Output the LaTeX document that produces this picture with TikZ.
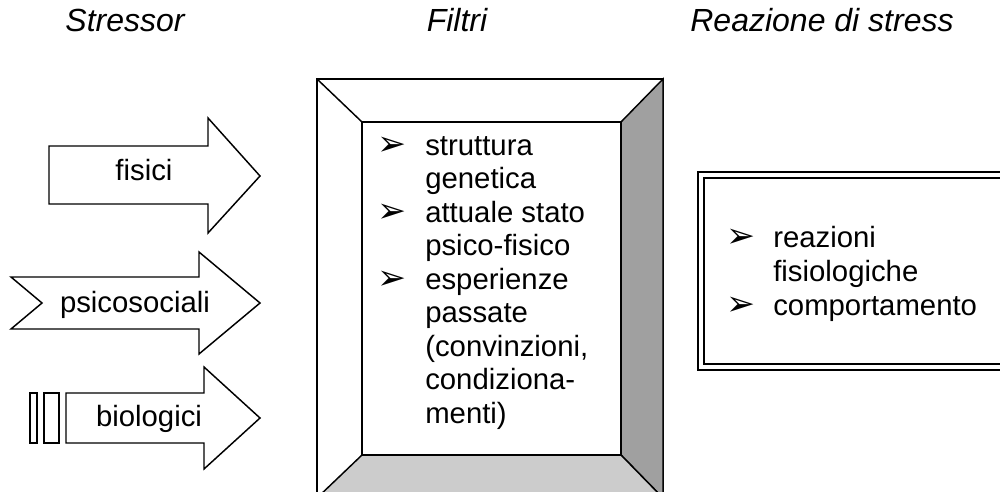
\documentclass[tikz,border=0pt]{standalone}
\usepackage{fontspec}
\setmainfont{Liberation Sans}
\newfontfamily\symfont{DejaVu Sans}
\definecolor{sidegray}{RGB}{160,160,160}
\definecolor{floorgray}{RGB}{204,204,204}
\tikzset{
  shape line/.style={draw=black, line width=1.1pt, line join=miter},
  title text/.style={font=\fontsize{24}{28}\selectfont\itshape, anchor=base, inner sep=0pt},
  body text/.style={font=\fontsize{22}{25}\selectfont, anchor=base west, inner sep=0pt},
  label text/.style={font=\fontsize{22}{25}\selectfont, anchor=base, inner sep=0pt},
  bullet mark/.style={font=\symfont\fontsize{26}{28}\selectfont, anchor=base west, inner sep=0pt},
}
\begin{document}
\begin{tikzpicture}[x=0.75pt, y=-0.75pt]
\useasboundingbox (0,0) rectangle (1000,492);
\clip (0,0) rectangle (1000,492);

\def\xol{317};
\def\xil{362};
\def\xir{621};
\def\xor{663};
\def\yot{79};
\def\yit{122};
\def\yib{455};
\def\yob{498};

\def\xb{377};
\def\xt{425};

% titles
\node[title text] (tstress) at (125,32) {Stressor};
\node[title text] (tfiltri) at (457,32) {Filtri};
\node[title text] (treaz) at (822,32) {Reazione di stress};

% stressor arrows
\filldraw[shape line, fill=white] (49,146) -- (208,146) -- (208,118) -- (260,176) -- (208,233) -- (208,204) -- (49,204) -- cycle;
\node[label text] (fis) at (144,180) {fisici};

\filldraw[shape line, fill=white] (11,277) -- (199,277) -- (199,252) -- (260,303) -- (199,354) -- (199,329) -- (11,329) -- (42,303) -- cycle;
\node[label text] (psi) at (135,312) {psicosociali};

\filldraw[shape line, fill=white] (66,393) -- (204,393) -- (204,367) -- (260,418) -- (204,469) -- (204,443) -- (66,443) -- cycle;
\draw[shape line] (30,393) rectangle (37,443);
\draw[shape line] (44,393) rectangle (59,443);
\node[label text] (bio) at (149,426) {biologici};

% filter frame
\filldraw[shape line, fill=white] (\xol,\yot) rectangle (\xor,\yob);
\filldraw[shape line, fill=sidegray] (\xor,\yot) -- (\xir,\yit) -- (\xir,\yib) -- (\xor,\yob) -- cycle;
\filldraw[shape line, fill=floorgray] (\xol,\yob) -- (\xil,\yib) -- (\xir,\yib) -- (\xor,\yob) -- cycle;
\draw[shape line] (\xol,\yot) -- (\xil,\yit);
\draw[shape line] (\xil,\yit) rectangle (\xir,\yib);

\node[bullet mark] (f1) at (\xb,155) {➢};
\node[body text] (f1a) at (\xt,155) {struttura};
\node[body text] (f1b) at (\xt,188.5) {genetica};
\node[bullet mark] (f2) at (\xb,222) {➢};
\node[body text] (f2a) at (\xt,222) {attuale stato};
\node[body text] (f2b) at (\xt,255.5) {psico-fisico};
\node[bullet mark] (f3) at (\xb,289) {➢};
\node[body text] (f3a) at (\xt,289) {esperienze};
\node[body text] (f3b) at (\xt,322.5) {passate};
\node[body text] (f3c) at (\xt,356) {(convinzioni,};
\node[body text] (f3d) at (\xt,389.5) {condiziona-};
\node[body text] (f3e) at (\xt,423) {menti)};

% reaction box
\draw[line width=2.2pt] (698,172) rectangle (1020,370);
\draw[line width=1.1pt] (704,178) rectangle (1020,364);

\node[bullet mark] (r1) at (726,247) {➢};
\node[body text] (r1a) at (773,247) {reazioni};
\node[body text] (r1b) at (773,281) {fisiologiche};
\node[bullet mark] (r2) at (726,315) {➢};
\node[body text] (r2a) at (773,315) {comportamento};

\end{tikzpicture}
\end{document}
